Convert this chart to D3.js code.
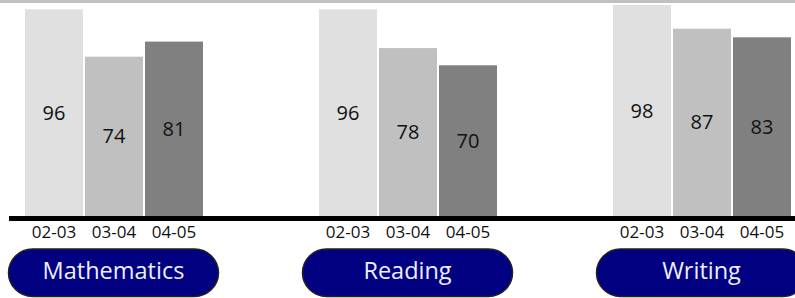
<!DOCTYPE html>
<html>
<head>
<meta charset="utf-8">
<script src="https://cdn.jsdelivr.net/npm/d3@7"></script>
<style>
  body { margin: 0; background: #fff; }
  svg { display: block; font-family: "Open Sans", sans-serif; }
</style>
</head>
<body>
<svg id="chart" width="795" height="298"></svg>
<script>
// data
var subjects = ["Mathematics", "Reading", "Writing"];
var years = ["02-03", "03-04", "04-05"];
var values = [
    [96, 74, 81],   // Mathematics
    [96, 78, 70],   // Reading
    [98, 87, 83]    // Writing
];
var barColors = ["#e0e0e0", "#c0c0c0", "#808080"];

var width = 795, height = 298;
var baseY = 216;

var svg = d3.select("#chart");

// top grey rule
svg.append("rect")
    .attr("x", 0).attr("y", 0)
    .attr("width", width).attr("height", 3)
    .attr("fill", "#c0c0c0");

var x0 = d3.scaleBand()
    .domain(subjects)
    .range([25, 791])
    .paddingInner(116 / 294)
    .paddingOuter(0);

var x1 = d3.scaleBand()
    .domain(years)
    .range([0, x0.bandwidth()])
    .paddingInner(2 / 60)
    .paddingOuter(0);

var y = d3.scaleLinear()
    .domain([0, 100])
    .range([baseY, baseY - 215.3]);

var groups = svg.selectAll(".grp")
    .data(subjects)
    .enter()
    .append("g")
    .attr("class", "grp")
    .attr("transform", d => `translate(${x0(d)},0)`);

// bars
groups.selectAll("rect.bar")
    .data((d, i) => values[i].map((v, j) => ({ year: years[j], value: v, idx: j })))
    .enter()
    .append("rect")
    .attr("class", "bar")
    .attr("x", d => x1(d.year))
    .attr("y", d => y(d.value))
    .attr("width", x1.bandwidth())
    .attr("height", d => baseY - y(d.value))
    .attr("fill", d => barColors[d.idx]);

// value labels, centred in the bar
groups.selectAll("text.val")
    .data((d, i) => values[i].map((v, j) => ({ year: years[j], value: v })))
    .enter()
    .append("text")
    .attr("class", "val")
    .attr("x", d => x1(d.year) + x1.bandwidth() / 2)
    .attr("y", d => (y(d.value) + baseY) / 2 + 7)
    .attr("text-anchor", "middle")
    .attr("font-size", "20px")
    .attr("fill", "#111")
    .text(d => d.value);

// baseline
svg.append("rect")
    .attr("x", 9).attr("y", baseY)
    .attr("width", width - 9).attr("height", 5)
    .attr("fill", "#000");

// year tick labels
groups.selectAll("text.yr")
    .data(years)
    .enter()
    .append("text")
    .attr("class", "yr")
    .attr("x", d => x1(d) + x1.bandwidth() / 2)
    .attr("y", 237.5)
    .attr("text-anchor", "middle")
    .attr("font-size", "17px")
    .attr("fill", "#111")
    .text(d => d);

// subject buttons
groups.append("rect")
    .attr("x", -16.5)
    .attr("y", 249)
    .attr("width", 210)
    .attr("height", 47.5)
    .attr("rx", 24)
    .attr("fill", "#000080")
    .attr("stroke", "#222")
    .attr("stroke-width", 1.5);

groups.append("text")
    .attr("x", -16.5 + 105)
    .attr("y", 278.5)
    .attr("text-anchor", "middle")
    .attr("font-size", "23.5px")
    .attr("fill", "#eeeeff")
    .text(d => d);
</script>
</body>
</html>
